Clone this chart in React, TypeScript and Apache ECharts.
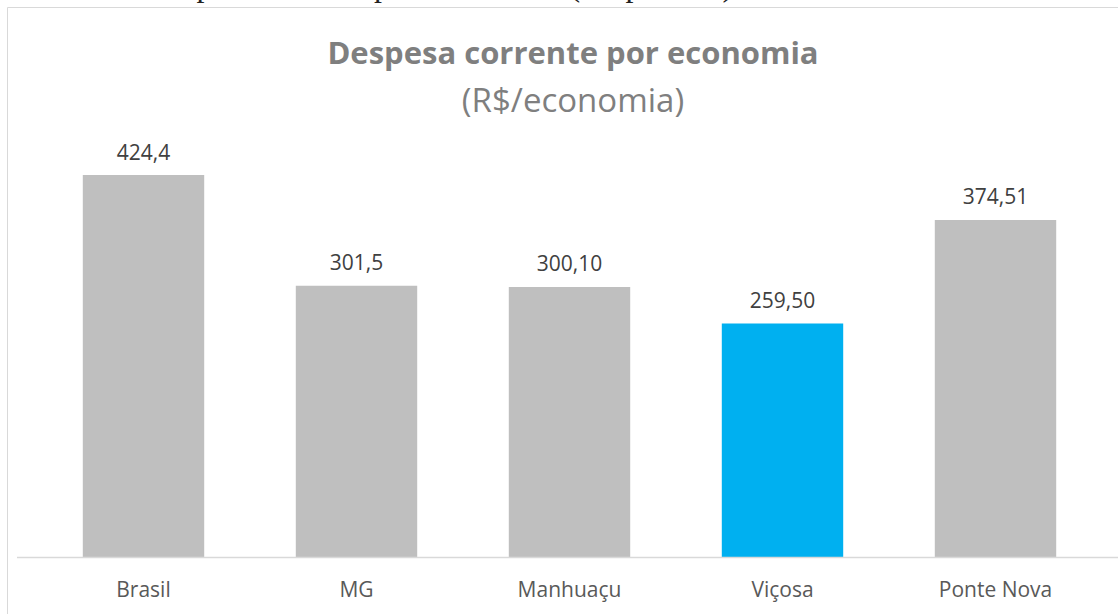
import React, { useEffect, useRef } from "react";
import * as echarts from "echarts";

const categories = ["Brasil", "MG", "Manhuaçu", "Viçosa", "Ponte Nova"];
const values = [424.4, 301.5, 300.1, 259.5, 374.51];
const valueLabels = ["424,4", "301,5", "300,10", "259,50", "374,51"];
const barColors = ["#bfbfbf", "#bfbfbf", "#bfbfbf", "#00b0f0", "#bfbfbf"];
const titleText = "Despesa corrente por economia";
const subtitleText = "(R$/economia)";
const captionText = "Gráfico 3: Despesa corrente por economias (R$ por ano)";

const FONT = "'Open Sans', 'Noto Sans', sans-serif";

export default function App() {
  const ref = useRef<HTMLDivElement>(null);
  useEffect(() => {
    if (!ref.current) return;
    const chart = echarts.init(ref.current, undefined, { renderer: "svg" });
    chart.setOption({
      animation: false,
      backgroundColor: "#ffffff",
      title: [
        {
          text: titleText,
          left: 568,
          textAlign: "center",
          top: 31,
          textStyle: { fontFamily: FONT, fontSize: 31, fontWeight: "bold", color: "#7f7f7f" },
        },
        {
          text: subtitleText,
          left: 568,
          textAlign: "center",
          top: 78,
          textStyle: { fontFamily: FONT, fontSize: 33, fontWeight: "normal", color: "#7f7f7f" },
        },
      ],
      graphic: [
        {
          type: "rect",
          shape: { x: 7.5, y: 7.5, width: 1200, height: 700 },
          style: { fill: "none", stroke: "#d9d9d9", lineWidth: 1 },
          silent: true,
          z: 0,
        },
        {
          type: "text",
          x: 8,
          y: 1,
          style: {
            text: captionText,
            font: "32px 'Liberation Serif', serif",
            fill: "#222222",
            textVerticalAlign: "bottom",
          },
          silent: true,
        },
        {
          type: "line",
          shape: { x1: 17, y1: 557.5, x2: 1118, y2: 557.5 },
          style: { stroke: "#d9d9d9", lineWidth: 1.5 },
          silent: true,
          z: 10,
        },
      ],
      grid: { left: 37, right: 16, top: 152, bottom: 57, containLabel: false },
      xAxis: {
        type: "category",
        data: categories,
        axisLine: { show: false },
        axisTick: { show: false },
        axisLabel: {
          fontFamily: FONT,
          fontSize: 21,
          color: "#595959",
          margin: 21,
        },
      },
      yAxis: {
        type: "value",
        min: 0,
        max: 450,
        show: false,
        splitLine: { show: false },
      },
      series: [
        {
          type: "bar",
          barCategoryGap: "43%",
          data: values.map((v, i) => ({ value: v, itemStyle: { color: barColors[i] } })),
          label: {
            show: true,
            position: "top",
            distance: 13,
            fontFamily: FONT,
            fontSize: 21,
            color: "#404040",
            formatter: (p: any) => valueLabels[p.dataIndex],
          },
        },
      ],
    });
    return () => chart.dispose();
  }, []);
  return (
    <div
      ref={ref}
      style={{ position: "absolute", left: 0, top: 0, width: 1118, height: 614 }}
    />
  );
}
